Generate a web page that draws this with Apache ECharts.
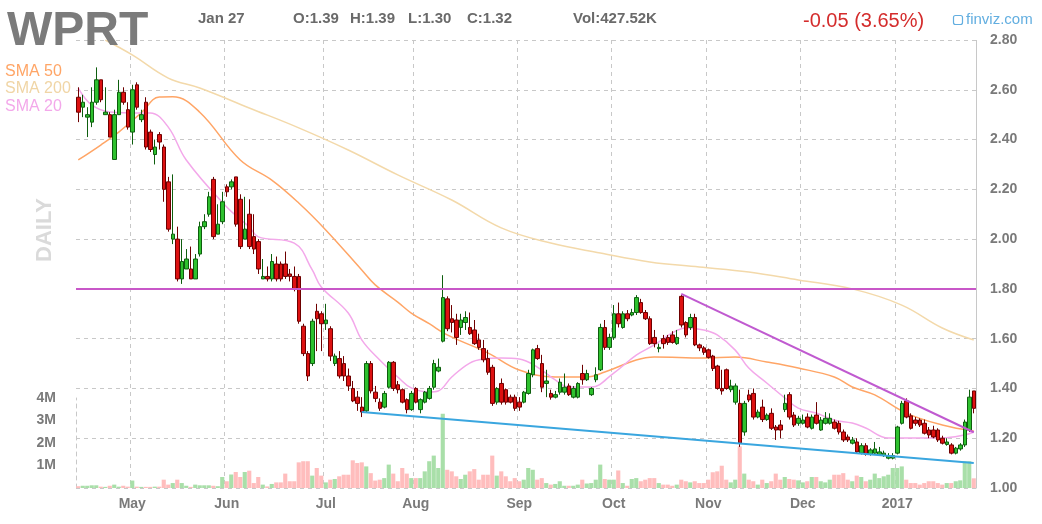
<!DOCTYPE html>
<html><head><meta charset="utf-8">
<script src="https://cdn.jsdelivr.net/npm/echarts@6/dist/echarts.min.js"></script>
<style>html,body{margin:0;padding:0;background:#fff}#c{width:1042px;height:524px}</style>
</head><body><div id="c"></div>
<script>
// ---- data ----
const firstDay = '2016-04-14';
const dayCount = 200;
const holidays = ['2016-05-30','2016-07-04','2016-09-05','2016-11-24','2016-12-26','2017-01-02','2017-01-16'];
const monthNames = ['Jan','Feb','Mar','Apr','May','Jun','Jul','Aug','Sep','Oct','Nov','Dec'];

const open = [2.57,2.53,2.49,2.47,2.55,2.64,2.50,2.50,2.32,2.50, 2.59,2.52,2.43,2.62,2.48,2.55,2.43,2.34,2.42,2.37, 2.23,2.00,2.00,1.84,1.88,1.88,1.84,1.94,2.05,2.10, 2.24,2.02,2.07,2.21,2.21,2.25,2.16,2.00,2.10,2.01, 1.99,1.84,1.85,1.84,1.90,1.90,1.90,1.86,1.85,1.85, 1.65,1.54,1.50,1.71,1.70,1.66,1.64,1.50,1.52,1.50, 1.45,1.40,1.365,1.325,1.31,1.50,1.385,1.345,1.325,1.405, 1.505,1.415,1.395,1.355,1.315,1.40,1.315,1.345,1.36,1.405, 1.47,1.59,1.76,1.68,1.675,1.645,1.665,1.645,1.635,1.595, 1.56,1.52,1.485,1.345,1.42,1.395,1.365,1.365,1.345,1.345, 1.38,1.455,1.56,1.50,1.42,1.38,1.365,1.385,1.385,1.41, 1.365,1.365,1.46,1.435,1.375,1.435,1.475,1.645,1.565,1.605, 1.70,1.645,1.70,1.695,1.705,1.745,1.705,1.68,1.605,1.56, 1.60,1.605,1.615,1.58,1.77,1.665,1.645,1.685,1.575,1.563, 1.555,1.53,1.49,1.40,1.475,1.395,1.345,1.34,1.225,1.374, 1.38,1.285,1.325,1.275,1.30,1.245,1.253,1.315,1.375,1.293, 1.26,1.26,1.285,1.24,1.293,1.233,1.26,1.26,1.265,1.26, 1.225,1.205,1.18,1.185,1.14,1.17,1.135,1.14,1.135,1.13, 1.12,1.12,1.14,1.26,1.35,1.29,1.273,1.273,1.26,1.233, 1.233,1.233,1.20,1.175,1.173,1.14,1.157,1.173,1.233,1.39];
const high = [2.61,2.58,2.53,2.61,2.69,2.64,2.61,2.51,2.52,2.64, 2.61,2.55,2.62,2.63,2.52,2.57,2.44,2.40,2.43,2.38, 2.25,2.26,2.05,2.00,1.96,1.97,1.94,2.07,2.10,2.19, 2.25,2.14,2.19,2.22,2.24,2.25,2.18,2.17,2.16,2.10, 2.00,1.92,1.89,1.94,1.93,1.91,1.95,1.88,1.89,1.86, 1.66,1.55,1.68,1.74,1.71,1.74,1.65,1.54,1.55,1.53, 1.48,1.43,1.39,1.365,1.51,1.51,1.41,1.36,1.39,1.51, 1.51,1.43,1.40,1.36,1.39,1.405,1.36,1.39,1.41,1.515, 1.52,1.855,1.77,1.735,1.70,1.70,1.71,1.705,1.675,1.62, 1.595,1.555,1.495,1.405,1.44,1.40,1.375,1.375,1.365,1.39, 1.475,1.56,1.575,1.535,1.475,1.395,1.39,1.44,1.46,1.42, 1.41,1.425,1.495,1.475,1.405,1.485,1.66,1.675,1.62,1.735, 1.745,1.71,1.715,1.72,1.775,1.76,1.715,1.69,1.635,1.58, 1.615,1.615,1.63,1.635,1.775,1.67,1.70,1.70,1.58,1.57, 1.56,1.535,1.495,1.475,1.48,1.435,1.42,1.395,1.35,1.395, 1.40,1.315,1.355,1.30,1.32,1.253,1.273,1.375,1.385,1.305, 1.29,1.295,1.30,1.295,1.345,1.285,1.305,1.30,1.275,1.27, 1.235,1.215,1.205,1.20,1.18,1.18,1.16,1.185,1.165,1.15, 1.14,1.14,1.25,1.35,1.36,1.30,1.285,1.28,1.275,1.245, 1.25,1.24,1.21,1.20,1.18,1.165,1.18,1.275,1.395,1.39];
const low = [2.47,2.49,2.41,2.45,2.54,2.55,2.50,2.41,2.32,2.50, 2.54,2.44,2.38,2.52,2.47,2.36,2.35,2.30,2.36,2.15, 2.03,1.98,1.83,1.82,1.88,1.84,1.84,1.93,2.04,2.09, 2.00,2.02,2.06,2.17,2.20,2.05,1.96,2.00,1.96,1.94, 1.86,1.84,1.83,1.83,1.83,1.83,1.84,1.83,1.79,1.66, 1.53,1.43,1.49,1.55,1.55,1.635,1.51,1.49,1.44,1.43, 1.39,1.345,1.31,1.285,1.305,1.38,1.345,1.31,1.32,1.40, 1.39,1.38,1.34,1.30,1.31,1.34,1.30,1.34,1.355,1.395, 1.465,1.585,1.63,1.625,1.575,1.615,1.635,1.615,1.575,1.555, 1.505,1.455,1.33,1.335,1.335,1.335,1.34,1.31,1.31,1.34, 1.375,1.445,1.515,1.385,1.365,1.355,1.36,1.375,1.375,1.37, 1.36,1.36,1.415,1.43,1.37,1.425,1.47,1.555,1.555,1.595, 1.645,1.64,1.67,1.69,1.695,1.70,1.675,1.575,1.565,1.545, 1.56,1.575,1.58,1.575,1.645,1.605,1.635,1.57,1.55,1.535, 1.52,1.47,1.395,1.375,1.395,1.385,1.335,1.165,1.21,1.345, 1.275,1.28,1.265,1.27,1.233,1.193,1.20,1.305,1.275,1.245, 1.25,1.255,1.24,1.235,1.255,1.23,1.255,1.255,1.235,1.215, 1.185,1.185,1.175,1.14,1.135,1.13,1.13,1.135,1.13,1.125, 1.115,1.115,1.135,1.255,1.28,1.235,1.25,1.245,1.215,1.20, 1.20,1.185,1.175,1.17,1.135,1.135,1.15,1.165,1.225,1.30];
const close = [2.51,2.55,2.50,2.55,2.64,2.56,2.51,2.41,2.50,2.59, 2.55,2.45,2.60,2.53,2.50,2.37,2.36,2.37,2.39,2.20, 2.04,2.02,1.84,1.91,1.92,1.84,1.92,2.05,2.07,2.17, 2.01,2.06,2.15,2.19,2.23,2.06,1.97,2.04,1.97,1.96, 1.88,1.85,1.84,1.91,1.84,1.84,1.85,1.85,1.80,1.67, 1.54,1.45,1.67,1.68,1.66,1.675,1.53,1.53,1.45,1.45, 1.41,1.35,1.34,1.305,1.50,1.39,1.36,1.32,1.38,1.505, 1.40,1.395,1.345,1.315,1.38,1.345,1.355,1.385,1.40,1.50, 1.485,1.765,1.64,1.665,1.605,1.675,1.685,1.62,1.58,1.565, 1.515,1.465,1.34,1.40,1.345,1.345,1.345,1.32,1.325,1.385, 1.46,1.555,1.52,1.405,1.43,1.365,1.375,1.425,1.405,1.375, 1.40,1.42,1.435,1.46,1.40,1.455,1.645,1.565,1.605,1.70, 1.66,1.70,1.68,1.705,1.765,1.705,1.68,1.58,1.58,1.565, 1.58,1.585,1.585,1.605,1.655,1.615,1.685,1.575,1.563,1.545, 1.525,1.48,1.40,1.39,1.40,1.41,1.41,1.18,1.34,1.354, 1.285,1.305,1.275,1.293,1.24,1.233,1.233,1.34,1.285,1.253, 1.28,1.273,1.245,1.285,1.26,1.273,1.28,1.28,1.24,1.225, 1.193,1.193,1.193,1.145,1.17,1.135,1.153,1.157,1.145,1.14, 1.128,1.13,1.245,1.34,1.285,1.24,1.26,1.253,1.22,1.213, 1.205,1.193,1.18,1.185,1.14,1.16,1.173,1.265,1.365,1.32];
// volume in millions
const volume = [0.08,0.10,0.10,0.12,0.12,0.06,0.05,0.10,0.15,0.06,0.10,0.06, 0.33, 0.06,0.05,0.05,0.05,0.06,0.06, 0.37,0.15,0.22,0.37,0.22,0.10, 0.05,0.15,0.12,0.12,0.12,0.10,0.08, 0.49,0.30,0.60,0.71,0.49,0.71,0.77,0.22,0.49,0.15,0.07,0.18,0.25,0.25,0.64,0.30,0.30, 1.14,1.19,1.19,0.55,0.89,0.55,0.25,0.37,0.40,0.52,0.59,0.59,1.23,1.11,1.14,0.96, 0.66,0.33,0.37,0.44,1.04,0.64,0.30,0.89,0.64,0.44,0.44,0.44,0.74,1.19,1.44,0.89,3.30, 0.81,0.74,0.52,0.40,0.59,0.74,0.84,0.37,0.59,0.59,1.44,0.55,0.74,0.52,0.30,0.44,0.30,0.37,0.89,0.81, 0.37,0.44,0.22,0.15,0.18,0.30,0.10,0.10,0.10,0.15,0.37,0.20,0.22,0.37,1.04,0.40,0.37,0.37,0.78,0.22, 0.10,0.40,0.44,0.30,0.37,0.44,0.44,0.22,0.15,0.15,0.10,0.15,0.37,0.30,0.25,0.30,0.22,0.22,0.37,0.70,0.74,0.99,0.37,0.25,0.37,1.85, 0.64,0.37,0.30,0.15,0.37,0.22,0.30,0.64,0.37,0.49,0.40,0.37,0.34,0.25,0.30,0.49,0.49,0.30,0.25,0.37,0.59,0.59,0.66,0.37,0.30,0.55, 0.49,0.30,0.37,0.64,0.44,0.52,0.59,0.89,0.89,0.96,0.37,0.22,0.22,0.15,0.22,0.30,0.30,0.22,0.15,0.22,0.22,0.30,0.34,1.19,1.19,0.43];
// moving averages: [day index, value]
const sma200 = [[6,2.80],[12,2.74],[20,2.647],[27,2.607],[38,2.527],[49,2.447],[60,2.358],[71,2.258],[83,2.157],[94,2.045],[105,1.984],[116,1.944],[127,1.908],[138,1.888],[149,1.868],[160,1.836],[172,1.80],[183,1.735],[192,1.643],[199,1.595]];
const sma50 = [[0,2.318],[5,2.378],[9,2.43],[14,2.507],[18,2.571],[21,2.572],[27,2.51],[36,2.318],[43,2.237],[49,2.145],[55,2.037],[63,1.876],[66,1.816],[71,1.747],[74,1.703],[78,1.66],[82,1.615],[91,1.543],[98,1.474],[106,1.446],[113,1.446],[117,1.466],[124,1.514],[128,1.526],[139,1.522],[146,1.526],[153,1.506],[160,1.482],[168,1.446],[172,1.406],[177,1.374],[184,1.301],[192,1.253],[199,1.229]];
const sma20 = [[0,2.607],[3,2.539],[7,2.511],[14,2.507],[16,2.507],[20,2.45],[24,2.318],[33,2.129],[38,2.049],[40,2.009],[48,1.984],[52,1.876],[54,1.808],[60,1.703],[63,1.595],[67,1.514],[71,1.446],[74,1.402],[78,1.386],[80,1.39],[83,1.446],[87,1.502],[90,1.518],[94,1.522],[98,1.518],[102,1.486],[106,1.434],[109,1.406],[114,1.406],[119,1.462],[124,1.534],[128,1.575],[132,1.623],[135,1.643],[139,1.635],[142,1.615],[146,1.554],[149,1.482],[153,1.422],[157,1.362],[160,1.321],[164,1.301],[168,1.273],[172,1.261],[175,1.241],[180,1.201],[184,1.201],[192,1.201],[197,1.213],[199,1.225]];
const resistanceLevel = 1.80;
const downTrend = [[134,1.78],[199,1.224]];
const supportTrend = [[63,1.305],[199,1.10]];
const lastPrice = 1.32;
const priceTicks = {min:1.0, max:2.8, interval:0.2};
const volTicks = {min:0, max:4, interval:1};

// ---- build categories (trading days) ----
const dates = [];
{
  let d = new Date(firstDay + 'T00:00:00Z');
  while (dates.length < dayCount) {
    const wd = d.getUTCDay();
    const s = d.toISOString().slice(0,10);
    if (wd !== 0 && wd !== 6 && holidays.indexOf(s) < 0) dates.push(s);
    d.setUTCDate(d.getUTCDate() + 1);
  }
}
const monthStart = {};
for (let i = 1; i < dates.length; i++) {
  if (dates[i].slice(5,7) !== dates[i-1].slice(5,7)) {
    const m = +dates[i].slice(5,7) - 1;
    monthStart[i] = m === 0 ? dates[i].slice(0,4) : monthNames[m];
  }
}
const isMonth = (i) => monthStart[i] !== undefined;

const UP = '#2ec12e', DOWN = '#dd1111', UPB = '#0e5e0e', DOWNB = '#6e0000';
const candleData = open.map((o,i) => [o, close[i], low[i], high[i]]);
const volData = volume.map((v,i) => ({value: v, itemStyle: {color: close[i] >= open[i] ? '#a9dfa9' : '#ffbdbd'}}));
const toPts = arr => arr.map(p => [dates[p[0]], p[1]]);

const FONT = '"Liberation Sans", Arial, sans-serif';
const chart = echarts.init(document.getElementById('c'), null, {renderer: 'canvas'});
chart.setOption({
  animation: false,
  backgroundColor: '#ffffff',
  grid: [
    {left: 76, right: 66, top: 40, bottom: 36},
    {left: 76, right: 66, top: 398, bottom: 36}
  ],
  xAxis: [
    {type: 'category', gridIndex: 0, data: dates, boundaryGap: true,
     axisLine: {show: false}, axisTick: {show: false},
     axisLabel: {interval: (i) => isMonth(i), formatter: (v, i) => monthStart[i] || '',
       color: '#7a7a7a', fontWeight: 'bold', fontSize: 14, fontFamily: FONT, margin: 9},
     splitLine: {show: true, interval: (i) => isMonth(i), lineStyle: {color: '#c8c8c8', type: [4,4], width: 1}}},
    {type: 'category', gridIndex: 1, data: dates, boundaryGap: true, show: false}
  ],
  yAxis: [
    {type: 'value', gridIndex: 0, position: 'right', min: priceTicks.min, max: priceTicks.max, interval: priceTicks.interval,
     axisLine: {show: true, lineStyle: {color: '#c8c8c8', type: [4,4]}}, axisTick: {show: false},
     axisLabel: {formatter: v => v.toFixed(2), color: '#7a7a7a', fontWeight: 'bold', fontSize: 14, fontFamily: FONT, margin: 14},
     splitLine: {show: true, lineStyle: {color: '#c8c8c8', type: [4,4], width: 1}}},
    {type: 'value', gridIndex: 1, position: 'left', min: volTicks.min, max: volTicks.max, interval: volTicks.interval,
     axisLine: {show: true, lineStyle: {color: '#c8c8c8', type: [4,4]}}, axisTick: {show: false},
     axisLabel: {formatter: v => v > 0 ? v + 'M' : '', color: '#7a7a7a', fontWeight: 'bold', fontSize: 14, fontFamily: FONT, margin: 20},
     splitLine: {show: false}}
  ],
  series: [
    {type: 'bar', xAxisIndex: 1, yAxisIndex: 1, data: volData, barCategoryGap: '8%', z: 1},
    {type: 'line', name: 'SMA 200', data: toPts(sma200), smooth: 0.4, symbol: 'none', z: 3,
     lineStyle: {color: '#f3d9aa', width: 1.5}},
    {type: 'line', name: 'SMA 50', data: toPts(sma50), smooth: 0.4, symbol: 'none', z: 3,
     lineStyle: {color: '#ffa566', width: 1.5}},
    {type: 'line', name: 'SMA 20', data: toPts(sma20), smooth: 0.4, symbol: 'none', z: 3,
     lineStyle: {color: '#f3a8ea', width: 1.5}},
    {type: 'candlestick', data: candleData, barWidth: 4, z: 4,
     itemStyle: {color: UP, color0: DOWN, borderColor: UPB, borderColor0: DOWNB, borderWidth: 1},
     markLine: {silent: true, symbol: 'none', animation: false,
       data: [
         {yAxis: resistanceLevel, lineStyle: {color: '#c857c8', width: 2, type: 'solid'}, label: {show: false}},
         [{coord: [dates[downTrend[0][0]], downTrend[0][1]], lineStyle: {color: '#c05ad0', width: 2, type: 'solid'}, label: {show: false}},
          {coord: [dates[downTrend[1][0]], downTrend[1][1]]}],
         [{coord: [dates[supportTrend[0][0]], supportTrend[0][1]], lineStyle: {color: '#3aa6df', width: 2, type: 'solid'}, label: {show: false}},
          {coord: [dates[supportTrend[1][0]], supportTrend[1][1]]}],
         {yAxis: lastPrice, lineStyle: {opacity: 0}, label: {show: true, position: 'end', distance: 11,
           formatter: lastPrice.toFixed(2), backgroundColor: '#ffff00', color: '#222', fontWeight: 'bold',
           fontSize: 15, fontFamily: FONT, padding: [3, 3, 2, 3]}}
       ]}}
  ],
  graphic: [
    {type: 'text', x: 7, y: 32, z: 10, style: {text: 'WPRT', font: 'bold 48px ' + FONT, fill: '#7b7b7b', textVerticalAlign: 'middle'}},
    {type: 'text', x: 198, y: 19, style: {text: 'Jan 27', font: 'bold 15px ' + FONT, fill: '#6a6a6a', textVerticalAlign: 'middle'}},
    {type: 'text', x: 293, y: 19, style: {text: 'O:1.39', font: 'bold 15px ' + FONT, fill: '#6a6a6a', textVerticalAlign: 'middle'}},
    {type: 'text', x: 350, y: 19, style: {text: 'H:1.39', font: 'bold 15px ' + FONT, fill: '#6a6a6a', textVerticalAlign: 'middle'}},
    {type: 'text', x: 408, y: 19, style: {text: 'L:1.30', font: 'bold 15px ' + FONT, fill: '#6a6a6a', textVerticalAlign: 'middle'}},
    {type: 'text', x: 467, y: 19, style: {text: 'C:1.32', font: 'bold 15px ' + FONT, fill: '#6a6a6a', textVerticalAlign: 'middle'}},
    {type: 'text', x: 573, y: 19, style: {text: 'Vol:427.52K', font: 'bold 15px ' + FONT, fill: '#6a6a6a', textVerticalAlign: 'middle'}},
    {type: 'text', x: 803, y: 21, style: {text: '-0.05 (3.65%)', font: '20px ' + FONT, fill: '#d42c2c', textVerticalAlign: 'middle'}},
    {type: 'rect', shape: {x: 953.5, y: 15.5, width: 9, height: 9, r: 2}, style: {fill: 'none', stroke: '#62aee0', lineWidth: 1.2}},
    {type: 'text', x: 966, y: 20, style: {text: 'finviz.com', font: '15px ' + FONT, fill: '#62aee0', textVerticalAlign: 'middle'}},
    {type: 'text', x: 5, y: 72, style: {text: 'SMA 50', font: '16px ' + FONT, fill: '#ffa566', textVerticalAlign: 'middle'}},
    {type: 'text', x: 5, y: 89, style: {text: 'SMA 200', font: '16px ' + FONT, fill: '#f0d5a5', textVerticalAlign: 'middle'}},
    {type: 'text', x: 5, y: 107, style: {text: 'SMA 20', font: '16px ' + FONT, fill: '#f3a8ea', textVerticalAlign: 'middle'}},
    {type: 'text', x: 45, y: 230, rotation: Math.PI / 2, style: {text: 'DAILY', font: 'bold 22px ' + FONT, fill: '#dadada', textAlign: 'center', textVerticalAlign: 'middle'}}
  ]
});
</script>
</body></html>
